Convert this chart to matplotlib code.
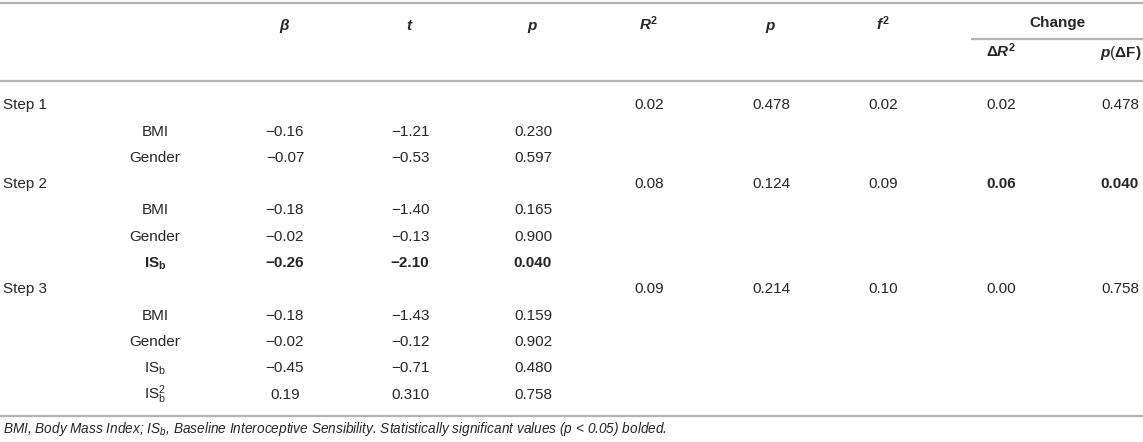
import matplotlib
matplotlib.use("Agg")
import matplotlib.pyplot as plt

plt.rcParams['font.family'] = ['Liberation Sans', 'DejaVu Sans']
plt.rcParams['mathtext.fontset'] = 'custom'
plt.rcParams['mathtext.rm'] = 'Liberation Sans'
plt.rcParams['mathtext.it'] = 'Liberation Sans:bold:italic'
plt.rcParams['mathtext.bf'] = 'Liberation Sans:bold'
plt.rcParams['mathtext.sf'] = 'Liberation Sans:italic'

# ---------------- data ----------------
row_labels = ["Step 1", "BMI", "Gender",
              "Step 2", "BMI", "Gender", r"$\mathbf{IS}_{\mathbf{b}}$",
              "Step 3", "BMI", "Gender", r"IS$_{\mathrm{b}}$", r"IS$_{\mathrm{b}}^{\mathrm{2}}$"]
is_step = [True, False, False, True, False, False, False, True, False, False, False, False]
beta_vals = ["", "\u22120.16", "\u22120.07", "", "\u22120.18", "\u22120.02", "\u22120.26",
             "", "\u22120.18", "\u22120.02", "\u22120.45", "0.19"]
t_vals = ["", "\u22121.21", "\u22120.53", "", "\u22121.40", "\u22120.13", "\u22122.10",
          "", "\u22121.43", "\u22120.12", "\u22120.71", "0.310"]
p_vals = ["", "0.230", "0.597", "", "0.165", "0.900", "0.040",
          "", "0.159", "0.902", "0.480", "0.758"]
bold_rows = [6]

step_rows = [0, 3, 7]
r2_vals = ["0.02", "0.08", "0.09"]
model_p_vals = ["0.478", "0.124", "0.214"]
f2_vals = ["0.02", "0.09", "0.10"]
dr2_vals = ["0.02", "0.06", "0.00"]
pdf_vals = ["0.478", "0.040", "0.758"]
bold_steps = [1]

headers1 = [r"$\beta$", r"$t$", r"$p$", r"$R^{\mathbf{2}}$", r"$p$", r"$f^{\mathbf{2}}$"]
header_change = "Change"
headers2 = [r"$\mathbf{\Delta}R^{\mathbf{2}}$", r"$p(\mathbf{\Delta F)}$"]
footnote = (r"BMI, Body Mass Index; IS$_{\mathsf{b}}$, Baseline Interoceptive Sensibility. "
            r"Statistically significant values ($\mathsf{p}$ < 0.05) bolded.")

# ---------------- layout ----------------
W, H = 1143, 442
fig = plt.figure(figsize=(W / 100, H / 100), dpi=100)
ax = fig.add_axes([0, 0, 1, 1])
ax.set_xlim(0, W)
ax.set_ylim(H, 0)
ax.axis('off')

TXT = '#262626'
LINE = '#b3b3b3'
FS = 11
col_x = [285, 410, 533, 649, 771, 883, 1001, 1139]
col_ha = ['center'] * 7 + ['right']
label_x = 155
row_y = [104 + i * 26.3 for i in range(len(row_labels))]
base = 5.3

# rules
ax.plot([0, W], [3, 3], color=LINE, lw=1.6, solid_capstyle='butt')
ax.plot([0, W], [81, 81], color=LINE, lw=1.6, solid_capstyle='butt')
ax.plot([971, W], [39, 39], color=LINE, lw=1.6, solid_capstyle='butt')
ax.plot([0, W], [415.5, 415.5], color=LINE, lw=1.6, solid_capstyle='butt')

# headers
for x, h in zip(col_x[:6], headers1):
    ax.text(x, 25 + base, h, ha='center', va='baseline', fontsize=FS, color=TXT)
ax.text(1057, 22 + base, header_change, ha='center', va='baseline', fontsize=FS,
        color=TXT, fontweight='bold')
for x, h, ha in zip([1001, 1141], headers2, ['center', 'right']):
    ax.text(x, 52 + base, h, ha=ha, va='baseline', fontsize=FS, color=TXT)

# body
for i, lab in enumerate(row_labels):
    y = row_y[i] + base
    w = 'bold' if i in bold_rows else 'normal'
    if is_step[i]:
        ax.text(3, y, lab, ha='left', va='baseline', fontsize=FS, color=TXT)
    else:
        ax.text(label_x, y, lab, ha='center', va='baseline', fontsize=FS, color=TXT,
                fontweight=w)
    for x, v in zip(col_x[:3], (beta_vals[i], t_vals[i], p_vals[i])):
        if v:
            ax.text(x, y, v, ha='center', va='baseline', fontsize=FS, color=TXT,
                    fontweight=w)

for k, r in enumerate(step_rows):
    y = row_y[r] + base
    vals = (r2_vals[k], model_p_vals[k], f2_vals[k], dr2_vals[k], pdf_vals[k])
    for j, (x, ha, v) in enumerate(zip(col_x[3:], col_ha[3:], vals)):
        w = 'bold' if (k in bold_steps and j >= 3) else 'normal'
        ax.text(x, y, v, ha=ha, va='baseline', fontsize=FS, color=TXT,
                fontweight=w)

ax.text(3, 433, footnote, ha='left', va='baseline', fontsize=9.8, color=TXT,
        fontstyle='italic')

fig.savefig("out.png", dpi=100)
